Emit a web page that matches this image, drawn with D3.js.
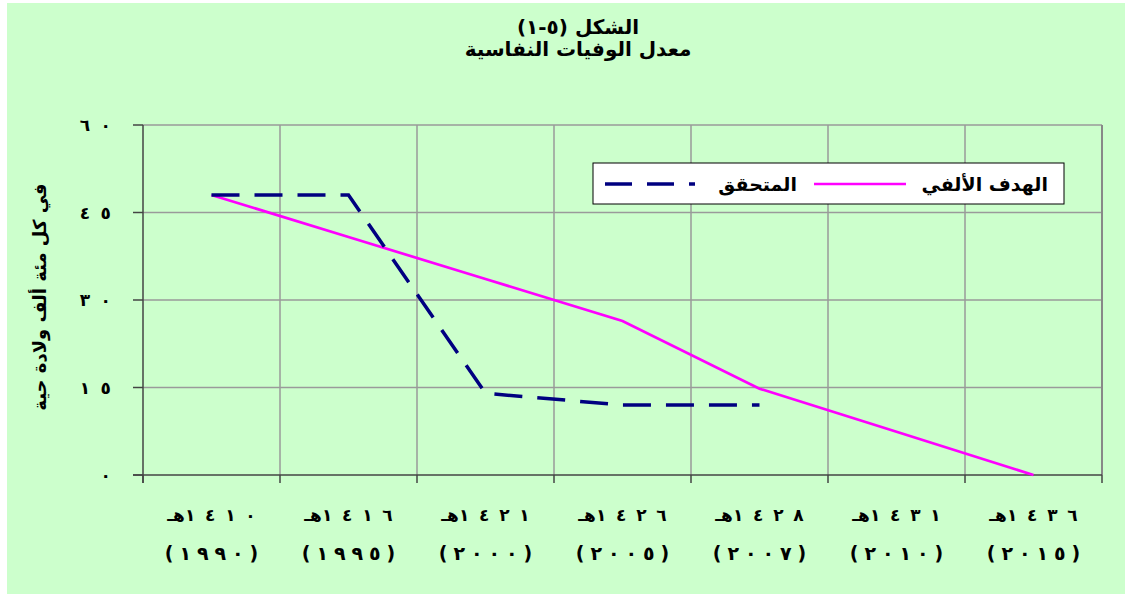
<!DOCTYPE html>
<html>
<head>
<meta charset="utf-8">
<script src="https://cdn.jsdelivr.net/npm/d3@7"></script>
<style>
	body { margin: 0; background: #ffffff; }
	svg text { font-family: "DejaVu Sans", "Noto Sans", sans-serif; font-weight: bold; fill: #000; }
</style>
</head>
<body>
<div id="chart"></div>
<script>
// Chart values
const hijriYears = ["١٤١٠", "١٤١٦", "١٤٢١", "١٤٢٦", "١٤٢٨", "١٤٣١", "١٤٣٦"];
const gregorianYears = ["(١٩٩٠)", "(١٩٩٥)", "(٢٠٠٠)", "(٢٠٠٥)", "(٢٠٠٧)", "(٢٠١٠)", "(٢٠١٥)"];
const achievedValues = [48, 48, 14, 12, 12, null, null];
const targetValues = [48, 40.8, 33.6, 26.4, 14.8, 7.4, 0];
const yTicks = [0, 15, 30, 45, 60];
const yTickLabels = ["٠", "١٥", "٣٠", "٤٥", "٦٠"];
const titleLines = ["الشكل (٥-١)", "معدل الوفيات النفاسية"];
const yTitle = "في كل مئة ألف ولادة حية";
const seriesNames = { target: "الهدف الألفي", achieved: "المتحقق" };

const width = 1125, height = 594;
const plot = { left: 143, right: 1102, top: 125, bottom: 475 };

// Chrome ignores letter-spacing for arabic digits, so we put a no-break space
// (bidi class CS, keeps the digits in one run) between characters, with its own size
function spacedText(textSel, str, gapSize) {
	let chars = Array.from(str);
	chars.forEach((c, k) => {
		if (k > 0) {
			textSel.append("tspan").style("font-size", gapSize + "px").text("\u00A0");
		}
		textSel.append("tspan").text(c);
	});
}

const svg = d3.select("#chart").append("svg")
	.attr("width", width)
	.attr("height", height);

// Background
svg.append("rect")
	.attr("x", 7).attr("y", 3)
	.attr("width", width - 7).attr("height", height - 3)
	.attr("fill", "#ccffcc");

// Scales
const x = d3.scaleBand()
	.domain(d3.range(hijriYears.length))
	.range([plot.left, plot.right])
	.padding(0);
const y = d3.scaleLinear()
	.domain([0, 60])
	.range([plot.bottom, plot.top]);
const xCenter = i => x(i) + x.bandwidth() / 2;

// Horizontal gridlines
svg.append("g")
	.selectAll("line")
	.data(yTicks.filter(d => d > 0))
	.enter()
	.append("line")
	.attr("x1", plot.left).attr("x2", plot.right)
	.attr("y1", d => y(d)).attr("y2", d => y(d))
	.attr("stroke", "#9a9a9a")
	.attr("stroke-width", 1.5);

// Vertical gridlines at category boundaries
const boundaries = d3.range(1, hijriYears.length + 1).map(i => plot.left + i * x.bandwidth());
svg.append("g")
	.selectAll("line")
	.data(boundaries)
	.enter()
	.append("line")
	.attr("x1", d => d).attr("x2", d => d)
	.attr("y1", plot.top).attr("y2", plot.bottom)
	.attr("stroke", (d, i) => i == boundaries.length - 1 ? "#888888" : "#9a9a9a")
	.attr("stroke-width", (d, i) => i == boundaries.length - 1 ? 2 : 1.5);

// Axes lines
svg.append("line")
	.attr("x1", plot.left).attr("x2", plot.left)
	.attr("y1", plot.top).attr("y2", plot.bottom + 8)
	.attr("stroke", "#444").attr("stroke-width", 1.5);
svg.append("line")
	.attr("x1", plot.left - 10).attr("x2", plot.right)
	.attr("y1", plot.bottom).attr("y2", plot.bottom)
	.attr("stroke", "#444").attr("stroke-width", 1.5);

// Y ticks
svg.append("g")
	.selectAll("line")
	.data(yTicks)
	.enter()
	.append("line")
	.attr("x1", plot.left - 10).attr("x2", plot.left)
	.attr("y1", d => y(d)).attr("y2", d => y(d))
	.attr("stroke", "#444").attr("stroke-width", 1.5);

svg.append("g")
	.selectAll("text")
	.data(yTicks)
	.enter()
	.append("text")
	.attr("x", 111)
	.attr("y", d => y(d) + 6)
	.attr("text-anchor", "end")
	.style("font-size", "17px")
	.each(function(d, i) { spacedText(d3.select(this), yTickLabels[i], 30); });

// X ticks
svg.append("g")
	.selectAll("line")
	.data(d3.range(hijriYears.length + 1))
	.enter()
	.append("line")
	.attr("x1", i => plot.left + i * x.bandwidth())
	.attr("x2", i => plot.left + i * x.bandwidth())
	.attr("y1", plot.bottom).attr("y2", plot.bottom + 8)
	.attr("stroke", "#444").attr("stroke-width", 1.5);

// X labels (two lines)
const xLabels = svg.append("g");
xLabels.selectAll("text.hijri")
	.data(hijriYears)
	.enter()
	.append("text")
	.attr("class", "hijri")
	.attr("x", (d, i) => xCenter(i))
	.attr("y", 521)
	.attr("text-anchor", "middle")
	.style("font-size", "17px")
	.each(function(d) {
		let t = d3.select(this);
		spacedText(t, d, 28);
		t.append("tspan").text("هـ");
	});
xLabels.selectAll("text.greg")
	.data(gregorianYears)
	.enter()
	.append("text")
	.attr("class", "greg")
	.attr("x", (d, i) => xCenter(i))
	.attr("y", 560)
	.attr("text-anchor", "middle")
	.style("font-size", "19px")
	.each(function(d) { spacedText(d3.select(this), d, 17); });

// Y axis title
svg.append("text")
	.attr("transform", "translate(46, 297) rotate(-90)")
	.attr("text-anchor", "middle")
	.style("font-size", "18px")
	.text(yTitle);

// Title
svg.append("g")
	.selectAll("text")
	.data(titleLines)
	.enter()
	.append("text")
	.attr("x", 578)
	.attr("y", (d, i) => 34 + i * 22)
	.attr("text-anchor", "middle")
	.style("font-size", "20px")
	.text(d => d);

// Lines
const line = d3.line()
	.defined(d => d != null)
	.x((d, i) => xCenter(i))
	.y(d => y(d));

svg.append("path")
	.datum(targetValues)
	.attr("d", line)
	.attr("fill", "none")
	.attr("stroke", "#ff00ff")
	.attr("stroke-width", 2.7);

svg.append("path")
	.datum(achievedValues)
	.attr("d", line)
	.attr("fill", "none")
	.attr("stroke", "#000080")
	.attr("stroke-width", 3.5)
	.attr("stroke-dasharray", "28,15");

// Legend
const legend = svg.append("g");
legend.append("rect")
	.attr("x", 593).attr("y", 163)
	.attr("width", 471).attr("height", 41)
	.attr("fill", "#ffffff")
	.attr("stroke", "#000").attr("stroke-width", 1);
legend.append("text")
	.attr("x", 1048).attr("y", 191)
	.attr("text-anchor", "end")
	.style("font-size", "19px")
	.text(seriesNames.target);
legend.append("line")
	.attr("x1", 814).attr("x2", 906)
	.attr("y1", 184).attr("y2", 184)
	.attr("stroke", "#ff00ff").attr("stroke-width", 2.7);
legend.append("text")
	.attr("x", 797).attr("y", 191)
	.attr("text-anchor", "end")
	.style("font-size", "19px")
	.text(seriesNames.achieved);
legend.append("line")
	.attr("x1", 605).attr("x2", 695)
	.attr("y1", 184).attr("y2", 184)
	.attr("stroke", "#000080").attr("stroke-width", 3.5)
	.attr("stroke-dasharray", "27,15");
</script>
</body>
</html>
